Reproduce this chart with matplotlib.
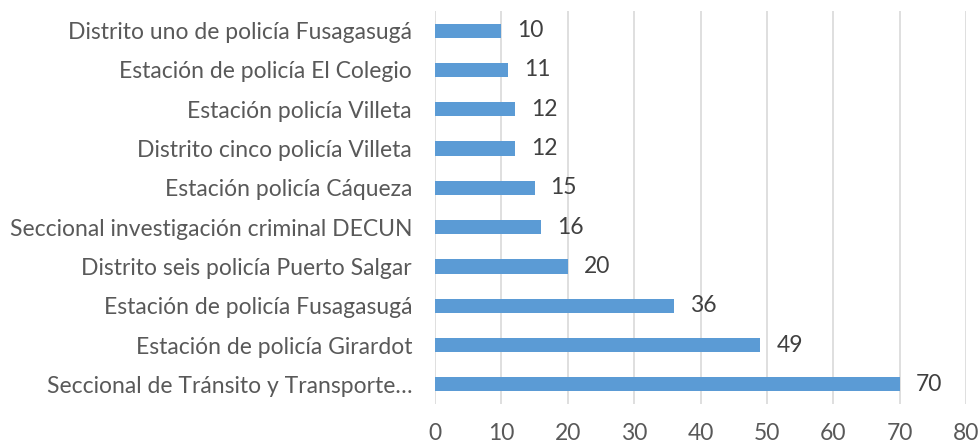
import matplotlib
matplotlib.use("Agg")
import matplotlib.pyplot as plt

categories = [
    "Distrito uno de policía Fusagasugá",
    "Estación de policía El Colegio",
    "Estación policía Villeta",
    "Distrito cinco policía Villeta",
    "Estación policía Cáqueza",
    "Seccional investigación criminal DECUN",
    "Distrito seis policía Puerto Salgar",
    "Estación de policía Fusagasugá",
    "Estación de policía Girardot",
    "Seccional de Tránsito y Transporte…",
]
values = [10, 11, 12, 12, 15, 16, 20, 36, 49, 70]
xticks = [0, 10, 20, 30, 40, 50, 60, 70, 80]

plt.rcParams['font.family'] = ['Lato', 'DejaVu Sans']

fig = plt.figure(figsize=(9.8, 4.47), dpi=100)
ax = fig.add_axes([435/980, 1-404/447, (966-435)/980, (404-11)/447])

ypos = list(range(len(categories)))
ax.barh(ypos, values, height=0.36, color="#5B9BD5", zorder=3)
ax.set_ylim(len(categories)-0.5, -0.5)
ax.set_xlim(0, 80)
ax.set_xticks(xticks)
ax.set_xticklabels([str(t) for t in xticks])
ax.set_yticks(ypos)
ax.set_yticklabels(categories)

ax.grid(axis="x", color="#D9D9D9", linewidth=1.2, zorder=0)
for s in ax.spines.values():
    s.set_visible(False)
ax.tick_params(axis="both", length=0, colors="#595959", labelsize=16.5)
ax.tick_params(axis="y", pad=16.5)
ax.tick_params(axis="x", pad=14)

for y, v in zip(ypos, values):
    ax.annotate(str(v), (v, y), xytext=(16, 0), textcoords="offset pixels",
                va="center", ha="left", fontsize=16.5, color="#404040")

fig.savefig("out.png", dpi=100)
